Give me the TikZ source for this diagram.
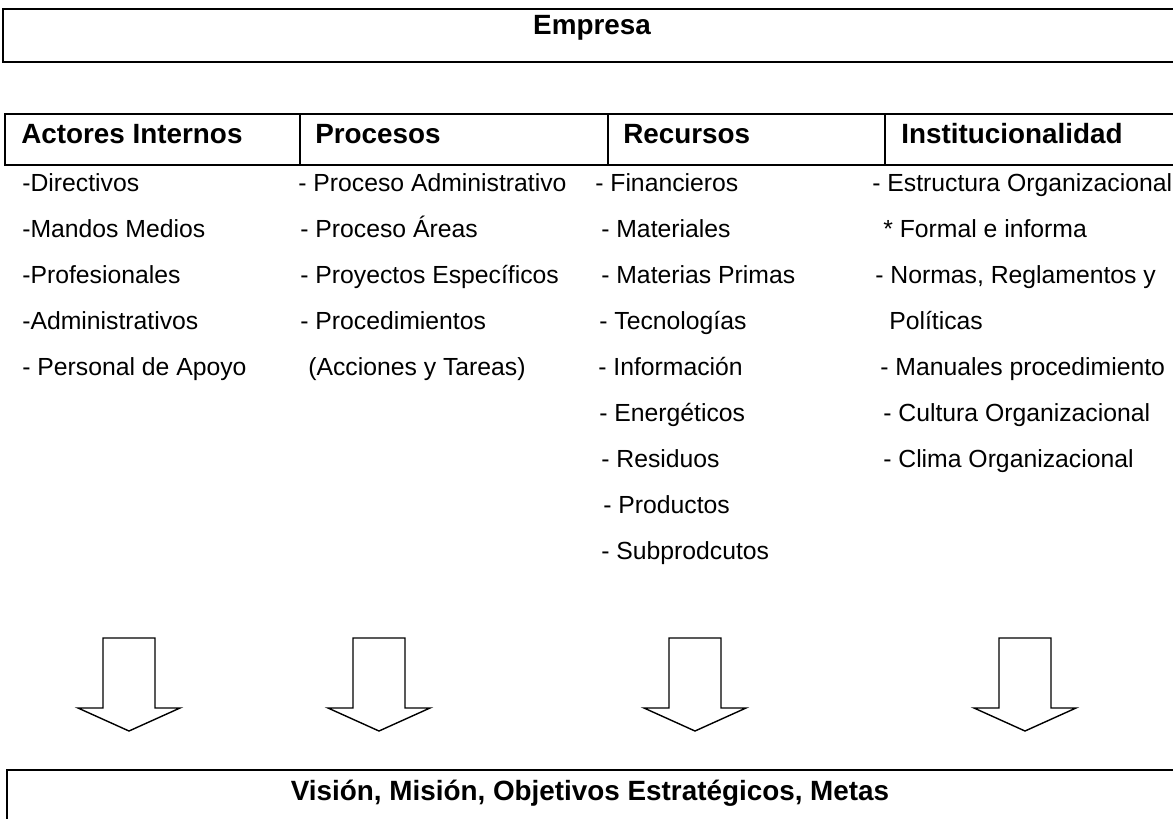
\documentclass[tikz,border=0pt]{standalone}
\usepackage{fontspec}
\setmainfont{Liberation Sans}

\tikzset{
  caja/.style={line width=1.6pt},
  flecha/.style={line width=1pt, line join=miter},
  titulo/.style={anchor=base west, inner sep=0pt, font=\fontsize{19.8}{24}\selectfont\bfseries},
  item/.style={anchor=base west, inner sep=0pt, font=\fontsize{17.6}{21}\selectfont},
}

\begin{document}
\begin{tikzpicture}[x=0.025cm,y=-0.025cm]
 \useasboundingbox (0,0) rectangle (1173,818);
 \clip (0,0) rectangle (1173,818);
 % caja superior
 \begin{scope}
  \draw[caja] (3,9) rectangle (1190,62);
  \draw (592,34) node[titulo,anchor=base] (empresa) {Empresa};
 \end{scope}
 % encabezados
 \begin{scope}
  \draw[caja] (5,114) rectangle (1190,165);
  \draw[caja] (300,114) -- (300,165);
  \draw[caja] (608,114) -- (608,165);
  \draw[caja] (885,114) -- (885,165);
  \draw (21,143) node[titulo] (actores) {Actores Internos};
  \draw (315,143) node[titulo] (procesos) {Procesos};
  \draw (623,143) node[titulo] (recursos) {Recursos};
  \draw (901,143) node[titulo] (instit) {Institucionalidad};
 \end{scope}
 % actores internos
 \draw (22,191) node[item] (a1) {-Directivos};
 \draw (22,237) node[item] (a2) {-Mandos Medios};
 \draw (22,283) node[item] (a3) {-Profesionales};
 \draw (22,329) node[item] (a4) {-Administrativos};
 \draw (22,375) node[item] (a5) {- Personal de Apoyo};
 % procesos
 \draw (298,191) node[item] (p1) {- Proceso Administrativo};
 \draw (300,237) node[item] (p2) {- Proceso Áreas};
 \draw (300,283) node[item] (p3) {- Proyectos Específicos};
 \draw (300,329) node[item] (p4) {- Procedimientos};
 \draw (308,375) node[item] (p5) {(Acciones y Tareas)};
 % recursos
 \draw (595,191) node[item] (r1) {- Financieros};
 \draw (601,237) node[item] (r2) {- Materiales};
 \draw (601,283) node[item] (r3) {- Materias Primas};
 \draw (599,329) node[item] (r4) {- Tecnologías};
 \draw (598,375) node[item] (r5) {- Información};
 \draw (599,421) node[item] (r6) {- Energéticos};
 \draw (601,467) node[item] (r7) {- Residuos};
 \draw (603,513) node[item] (r8) {- Productos};
 \draw (601,559) node[item] (r9) {- Subprodcutos};
 % institucionalidad
 \draw (872,191) node[item] (i1) {- Estructura Organizacional};
 \draw (883,237) node[item] (i2) {* Formal e informa};
 \draw (875,283) node[item] (i3) {- Normas, Reglamentos y};
 \draw (889,329) node[item] (i4) {Políticas};
 \draw (880,375) node[item] (i5) {- Manuales procedimiento};
 \draw (883,421) node[item] (i6) {- Cultura Organizacional};
 \draw (883,467) node[item] (i7) {- Clima Organizacional};
 % flechas huecas
 \draw[flecha] (103,638) -- (155,638) -- (155,708) -- (180,708) -- (129,731) -- (78,708) -- (103,708) -- cycle;
 \draw[flecha] (353,638) -- (405,638) -- (405,708) -- (430,708) -- (379,731) -- (328,708) -- (353,708) -- cycle;
 \draw[flecha] (669,638) -- (721,638) -- (721,708) -- (746,708) -- (695,731) -- (644,708) -- (669,708) -- cycle;
 \draw[flecha] (999,638) -- (1051,638) -- (1051,708) -- (1076,708) -- (1025,731) -- (974,708) -- (999,708) -- cycle;
 % caja inferior
 \draw[caja] (1190,770) -- (7,770) -- (7,830);
 \draw (590,800) node[titulo,anchor=base] (vision) {Visión, Misión, Objetivos Estratégicos, Metas};
\end{tikzpicture}
\end{document}
